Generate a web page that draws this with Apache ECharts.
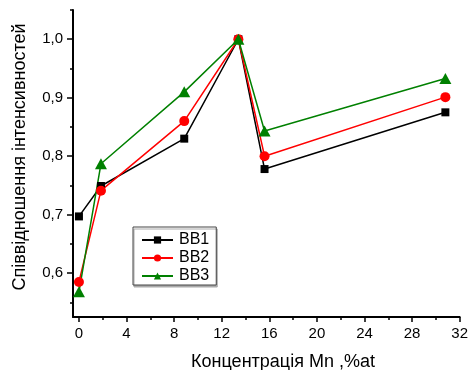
<!DOCTYPE html>
<html>
<head>
<meta charset="utf-8">
<script src="https://cdn.jsdelivr.net/npm/echarts@6/dist/echarts.min.js"></script>
<style>
  html, body { margin: 0; padding: 0; background: #fff; }
  #chart { width: 471px; height: 370px; }
</style>
</head>
<body>
<div id="chart"></div>
<script>
// Mn concentration, %at
const mnConc = [0, 1.85, 8.85, 13.4, 15.6, 30.8];
// relative intensity ratios per sample series
const bb1 = [0.697, 0.749, 0.830, 1.0, 0.778, 0.875];
const bb2 = [0.585, 0.741, 0.860, 1.0, 0.800, 0.901];
const bb3 = [0.568, 0.787, 0.910, 1.0, 0.843, 0.933];
const seriesNames = ['BB1', 'BB2', 'BB3'];

const xMajor = [0, 4, 8, 12, 16, 20, 24, 28, 32];
const xMinor = [2, 6, 10, 14, 18, 22, 26, 30];
const yMajor = [0.6, 0.7, 0.8, 0.9, 1.0];
const yMinor = [0.55, 0.65, 0.75, 0.85, 0.95, 1.05];

const FONT = '"Liberation Sans", Arial, sans-serif';
const pairs = vals => mnConc.map((x, i) => [x, vals[i]]);

const chart = echarts.init(document.getElementById('chart'), null, { renderer: 'canvas' });

const axisBase = {
  type: 'value',
  splitLine: { show: false }
};

chart.setOption({
  animation: false,
  backgroundColor: '#fff',
  grid: { left: 73, right: 8, top: 10, bottom: 53, containLabel: false },
  xAxis: [
    Object.assign({}, axisBase, {
      min: -0.5, max: 32,
      axisLine: { show: true, onZero: false, lineStyle: { color: '#000', width: 2 } },
      axisTick: { show: true, customValues: xMajor, length: 5, inside: false, lineStyle: { color: '#000', width: 1.5 } },
      axisLabel: { show: true, customValues: xMajor, margin: 9, color: '#000', fontSize: 15, fontFamily: FONT }
    }),
    Object.assign({}, axisBase, {
      min: -0.5, max: 32, position: 'bottom',
      axisLine: { show: false, onZero: false },
      axisTick: { show: true, customValues: xMinor, length: 3, lineStyle: { color: '#000', width: 1.5 } },
      axisLabel: { show: false }
    })
  ],
  yAxis: [
    Object.assign({}, axisBase, {
      min: 0.525, max: 1.05,
      axisLine: { show: true, onZero: false, lineStyle: { color: '#000', width: 2 } },
      axisTick: { show: true, customValues: yMajor, length: 6, lineStyle: { color: '#000', width: 1.5 } },
      axisLabel: {
        show: true, customValues: yMajor, margin: 10, color: '#000', fontSize: 15, fontFamily: FONT,
        formatter: v => v.toFixed(1).replace('.', ',')
      }
    }),
    Object.assign({}, axisBase, {
      min: 0.525, max: 1.05, position: 'left',
      axisLine: { show: false, onZero: false },
      axisTick: { show: true, customValues: yMinor, length: 3, lineStyle: { color: '#000', width: 1.5 } },
      axisLabel: { show: false }
    })
  ],
  legend: {
    orient: 'vertical',
    left: 133, top: 227,
    padding: [5, 7, 1, 8],
    itemWidth: 31, itemHeight: 9, itemGap: 2,
    backgroundColor: '#fff',
    borderColor: '#444', borderWidth: 1, borderRadius: 0,
    shadowColor: '#aaa', shadowOffsetX: 1, shadowOffsetY: 2, shadowBlur: 0,
    textStyle: { color: '#000', fontSize: 16, lineHeight: 16, fontFamily: FONT, padding: [0, 0, 0, 1] },
    data: seriesNames
  },
  graphic: [
    {
      type: 'text',
      style: {
        text: 'Концентрація Mn ,%at', x: 283, y: 362,
        align: 'center', verticalAlign: 'middle',
        font: '18px ' + FONT, fill: '#000'
      }
    },
    {
      type: 'text',
      x: 20, y: 157, rotation: Math.PI / 2,
      style: {
        text: 'Співвідношення інтенсивностей', x: 0, y: 0,
        align: 'center', verticalAlign: 'middle',
        font: '18px ' + FONT, fill: '#000'
      }
    }
  ],
  series: [
    {
      name: seriesNames[0], type: 'line', data: pairs(bb1),
      symbol: 'rect', symbolSize: 8,
      itemStyle: { color: '#000' }, lineStyle: { color: '#000', width: 1.5 }
    },
    {
      name: seriesNames[1], type: 'line', data: pairs(bb2),
      symbol: 'circle', symbolSize: 10,
      itemStyle: { color: '#ff0000' }, lineStyle: { color: '#ff0000', width: 1.5 }
    },
    {
      name: seriesNames[2], type: 'line', data: pairs(bb3),
      symbol: 'triangle', symbolSize: [12, 11],
      itemStyle: { color: '#008000' }, lineStyle: { color: '#008000', width: 1.5 }
    }
  ]
});
</script>
</body>
</html>
